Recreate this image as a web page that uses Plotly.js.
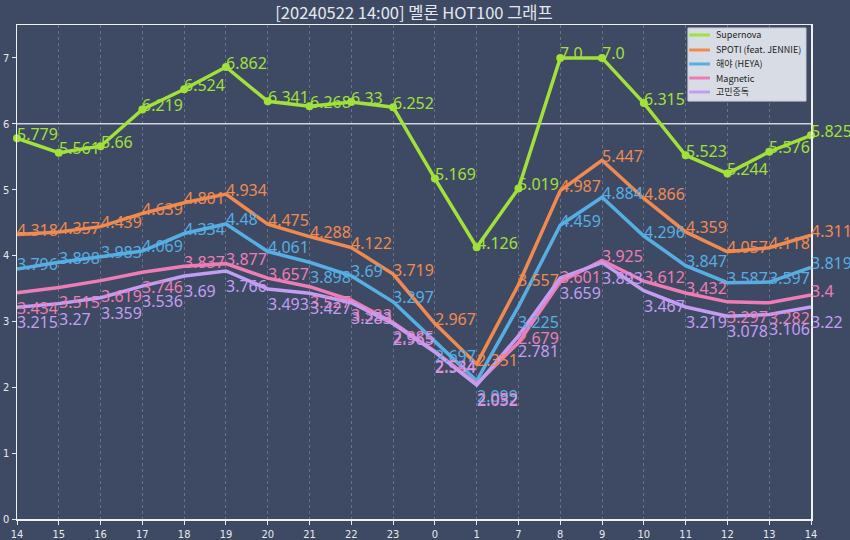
<!DOCTYPE html>
<html>
<head>
<meta charset="utf-8">
<script src="https://cdn.plot.ly/plotly-3.0.1.min.js"></script>
<style>html,body{margin:0;padding:0;background:#3e4a64;}#chart{width:850px;height:540px;}</style>
</head>
<body>
<div id="chart"></div>
<script>
const hours = ["14","15","16","17","18","19","20","21","22","23","0","1","7","8","9","10","11","12","13","14"];
const supernova = [5.779, 5.561, 5.66, 6.219, 6.524, 6.862, 6.341, 6.268, 6.33, 6.252, 5.169, 4.126, 5.019, 7.0, 7.0, 6.315, 5.523, 5.244, 5.576, 5.825];
const spoti = [4.318, 4.357, 4.439, 4.639, 4.801, 4.934, 4.475, 4.288, 4.122, 3.719, 2.967, 2.351, 3.557, 4.987, 5.447, 4.866, 4.359, 4.057, 4.118, 4.311];
const heya = [3.796, 3.898, 3.983, 4.069, 4.334, 4.48, 4.061, 3.898, 3.69, 3.297, 2.697, 2.099, 3.225, 4.459, 4.884, 4.296, 3.847, 3.587, 3.597, 3.819];
const magnetic = [3.434, 3.515, 3.619, 3.746, 3.837, 3.877, 3.657, 3.527, 3.323, 2.985, 2.544, 2.052, 2.679, 3.601, 3.925, 3.612, 3.432, 3.297, 3.282, 3.4];
const gomin = [3.215, 3.27, 3.359, 3.536, 3.69, 3.766, 3.493, 3.427, 3.283, 2.965, 2.534, 2.032, 2.781, 3.659, 3.893, 3.467, 3.219, 3.078, 3.106, 3.22];
const names = ["Supernova", "SPOTI (feat. JENNIE)", "해야 (HEYA)", "Magnetic", "고민중독"];
const colors = ["#a2e03a", "#f08a4e", "#57aee2", "#ee7db5", "#c49df2"];

const xs = hours.map((_, i) => i);
const fmt = v => Number.isInteger(v) ? v.toFixed(1) : String(v);
const series = [supernova, spoti, heya, magnetic, gomin];

const traces = series.map((vals, k) => ({
  type: 'scatter',
  mode: k === 0 ? 'lines+markers' : 'lines',
  x: xs,
  y: vals,
  name: names[k],
  line: {color: colors[k], width: 3.5},
  marker: {color: colors[k], size: 8},
  cliponaxis: false,
  showlegend: false
}));

// value labels: left-aligned at the point; placed below when too close to the series above
const annotations = [];
series.forEach((vals, k) => {
  vals.forEach((v, i) => {
    const below = k > 0 && (series[k - 1][i] - v) < 0.4;
    annotations.push({
      x: xs[i], y: v, xref: 'x', yref: 'y', text: fmt(v), showarrow: false,
      xanchor: 'left', yanchor: 'middle', xshift: -2, yshift: below ? -15 : 4.5,
      font: {family: 'Noto Sans, sans-serif', size: 16, color: colors[k]}
    });
  });
});

// legend box
const legX0 = 0.845, legX1 = 0.9937, legY0 = 0.846, legY1 = 0.9939;
const legRows = [0.9798, 0.9494, 0.9211, 0.8927, 0.8644];
const shapes = [
  {type: 'line', xref: 'paper', x0: 0, x1: 1, yref: 'y', y0: 6, y1: 6,
   line: {color: 'rgba(235,235,240,0.85)', width: 1.5}, layer: 'below'},
  {type: 'rect', xref: 'paper', yref: 'paper', x0: legX0, x1: legX1, y0: legY0, y1: legY1,
   fillcolor: 'rgba(226,229,236,0.94)', line: {color: '#c8ccd6', width: 1}, layer: 'above'}
];
names.forEach((n, k) => {
  shapes.push({type: 'line', xref: 'paper', yref: 'paper', x0: 0.8465, x1: 0.8728, y0: legRows[k], y1: legRows[k],
    line: {color: colors[k], width: 3}, layer: 'above'});
  annotations.push({xref: 'paper', yref: 'paper', x: 0.8778, y: legRows[k], text: n, showarrow: false,
    xanchor: 'left', yanchor: 'middle',
    font: {family: 'Noto Sans CJK KR, Noto Sans, sans-serif', size: 9, color: '#222'}});
});

const layout = {
  width: 850, height: 540,
  paper_bgcolor: '#3e4a64',
  plot_bgcolor: '#3e4a64',
  margin: {l: 17, r: 39, t: 25, b: 21},
  title: {text: '[20240522 14:00] 멜론 HOT100 그래프', xref: 'paper', x: 0.5, xanchor: 'center', y: 0.975, yanchor: 'middle',
          font: {family: 'Noto Sans CJK KR, Noto Sans, sans-serif', size: 16.5, color: '#e6e8ee'}},
  font: {family: 'Noto Sans, sans-serif', color: '#e6e8ee'},
  xaxis: {
    range: [0, 19],
    tickvals: xs, ticktext: hours,
    tickfont: {family: 'DejaVu Sans Condensed, Noto Sans, sans-serif', size: 11, color: '#e6e8ee'},
    ticks: 'outside', ticklen: 4, tickcolor: '#e6e8ee',
    showgrid: true, gridcolor: 'rgba(255,255,255,0.22)', griddash: '3px,3px', gridwidth: 1,
    showline: true, linecolor: '#f0f0f0', linewidth: 1.5, mirror: true,
    zeroline: false
  },
  yaxis: {
    range: [0, 7.5],
    tickvals: [0,1,2,3,4,5,6,7],
    tickfont: {family: 'DejaVu Sans Condensed, Noto Sans, sans-serif', size: 11, color: '#e6e8ee'},
    ticks: 'outside', ticklen: 4, tickcolor: '#e6e8ee',
    showgrid: false,
    showline: true, linecolor: '#f0f0f0', linewidth: 1.5, mirror: true,
    zeroline: true, zerolinecolor: '#f0f0f0', zerolinewidth: 2
  },
  shapes: shapes,
  annotations: annotations,
  showlegend: false
};

Plotly.newPlot('chart', traces, layout, {displayModeBar: false, staticPlot: true});
</script>
</body>
</html>
